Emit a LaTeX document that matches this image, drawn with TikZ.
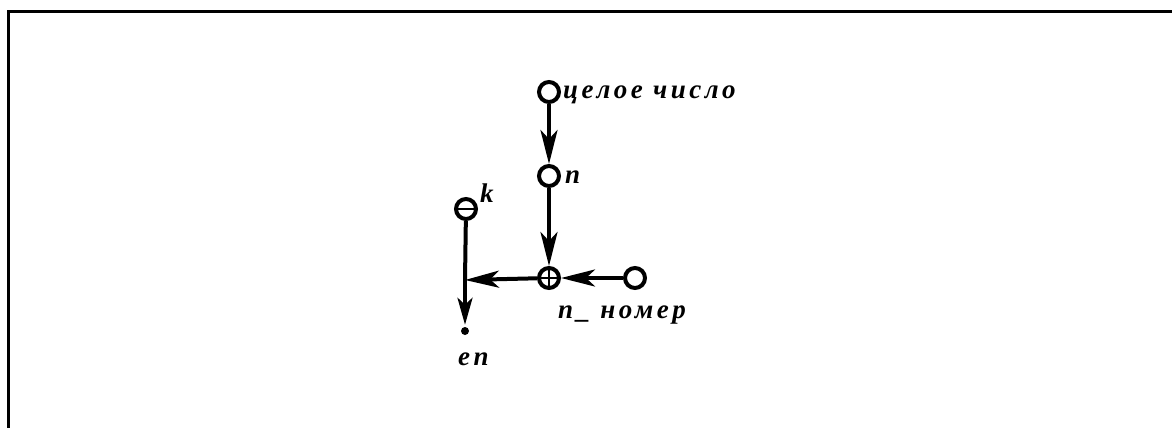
\documentclass[tikz,border=0pt]{standalone}
\usepackage{fontspec}
\setmainfont{Liberation Serif}
\newfontfamily\lblfont{Liberation Serif}[LetterSpace=13]
\usetikzlibrary{arrows.meta}
\begin{document}
\begin{tikzpicture}[x=1pt,y=-1pt,
  wire/.style={line width=4pt},
  flow/.style={wire,-{Stealth[length=34pt,width=17pt,inset=9pt]}},
  vertex/.style={circle,draw,line width=4pt,minimum size=20pt,inner sep=0pt,fill=white},
  lbl/.style={inner sep=0pt,font=\lblfont\fontsize{27}{29}\selectfont\bfseries\itshape}]
  \useasboundingbox (0,0) rectangle (1172,428);
  % frame: top and left edges only
  \draw[line width=2.7pt] (8.7,428) -- (8.7,11.3) -- (1172,11.3);

  % vertices
  \node[vertex] (src) at (549,92) {};
  \node[vertex] (n) at (549,176) {};
  \node[vertex] (sum) at (549,278) {};
  \node[vertex] (num) at (635,278) {};
  \node[vertex] (k) at (466,209) {};
  \node[circle,fill,minimum size=8pt,inner sep=0pt] (out) at (465,331) {};
  \coordinate (join) at (465,280);

  % marks inside the vertices
  \draw[line width=1.4pt] (sum.north) -- (sum.south) (sum.west) -- (sum.east);
  \draw[line width=1.4pt] (k.west) -- (k.east);

  % connectors
  \draw[flow] (src) -- (n);
  \draw[flow] (n) -- (sum);
  \draw[flow] (num) -- (sum);
  \draw[flow] (sum) -- (join);
  \draw[wire] (k) -- (join);
  \draw[wire,-{Stealth[length=27pt,width=15pt,inset=7pt]},shorten >=2pt] (join) -- (out);

  % labels
  \node[lbl,anchor=base west] (tsrc) at (563,98) {целое число};
  \node[lbl,anchor=base west] (tn) at (565,183) {n};
  \node[lbl,anchor=base west] (tk) at (480,202) {k};
  \node[lbl,anchor=base west] (tnum) at (558,318) {n\_ номер};
  \node[lbl,anchor=base west] (tout) at (458,365) {en};
\end{tikzpicture}
\end{document}
